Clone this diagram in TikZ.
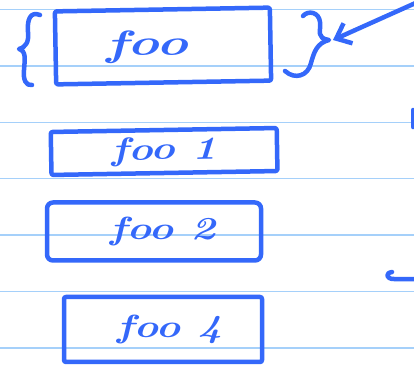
\documentclass[tikz,border=0pt]{standalone}
\usepackage{graphicx}
\usepackage{tikz}
\usetikzlibrary{arrows.meta, positioning}
\definecolor{ink}{RGB}{52,104,250}
\definecolor{paperline}{RGB}{165,208,250}
\newcommand{\hand}[2][1.3]{\scalebox{#1}[1]{\bfseries\itshape #2}}
\tikzstyle{sketchbox} = [rectangle, rounded corners=2pt, draw=ink, line width=4.5pt, line join=round, text=ink, font=\fontsize{32}{32}\selectfont, inner sep=0pt]
\tikzstyle{inkline} = [draw=ink, line width=4.5pt, line cap=round, line join=round]
\tikzstyle{ruling} = [draw=paperline, line width=1.5pt]
\tikzstyle{arrow} = [inkline, -{Straight Barb[length=13pt, width=22pt]}]
\begin{document}
\begin{tikzpicture}[x=1pt, y=1pt]
    \fill[white] (0,0) rectangle (414,-368);
    \useasboundingbox (0,0) rectangle (414,-368);
    % lined paper
    \foreach \k in {0,...,6}
        \draw[ruling] (0,{-9.5-56.4*\k}) -- (414,{-9.5-56.4*\k});

    \node (foo) [sketchbox, minimum width=215pt, minimum height=73pt, rotate=1, font=\fontsize{36}{36}\selectfont] at (163,-46) {\hand[1.5]{foo}\rule{32pt}{0pt}};
    \node (foo1) [sketchbox, minimum width=226pt, minimum height=43pt, below=43pt of foo, rotate=1] {\hand{foo 1}};
    \node (foo2) [sketchbox, minimum width=214pt, minimum height=58pt, below=25pt of foo1, xshift=-10.5pt, rounded corners=6pt] {\rule{17pt}{0pt}\hand{foo 2}};
    \node (foo4) [sketchbox, minimum width=198pt, minimum height=65pt, below=32pt of foo2, xshift=9pt] {\rule{13pt}{0pt}\hand{foo 4}};

    % braces round the first box
    \draw[inkline] (40,-15) .. controls (30,-11) and (27,-20) .. (28,-32)
        .. controls (29,-42) and (26,-47) .. (19,-49)
        .. controls (26,-51) and (25,-58) .. (24,-70)
        .. controls (23,-80) and (26,-86) .. (32,-85);
    \draw[inkline] (303,-16) .. controls (308,-10) and (319,-12) .. (320,-22)
        .. controls (321,-32) and (316,-38) .. (329,-40)
        .. controls (317,-43) and (314,-52) .. (311,-63)
        .. controls (308,-76) and (295,-80) .. (285,-71);

    \coordinate (tail) at (420,-1);
    \coordinate (tip) at (333,-40);
    \draw[arrow] (tail) -- (tip);

    % marks cut off at the right edge
    \draw[inkline] (413,-110) -- (413,-127);
    \draw[inkline] (418,-279) -- (394,-279) .. controls (386,-279) and (385,-273) .. (392,-272);
\end{tikzpicture}
\end{document}
